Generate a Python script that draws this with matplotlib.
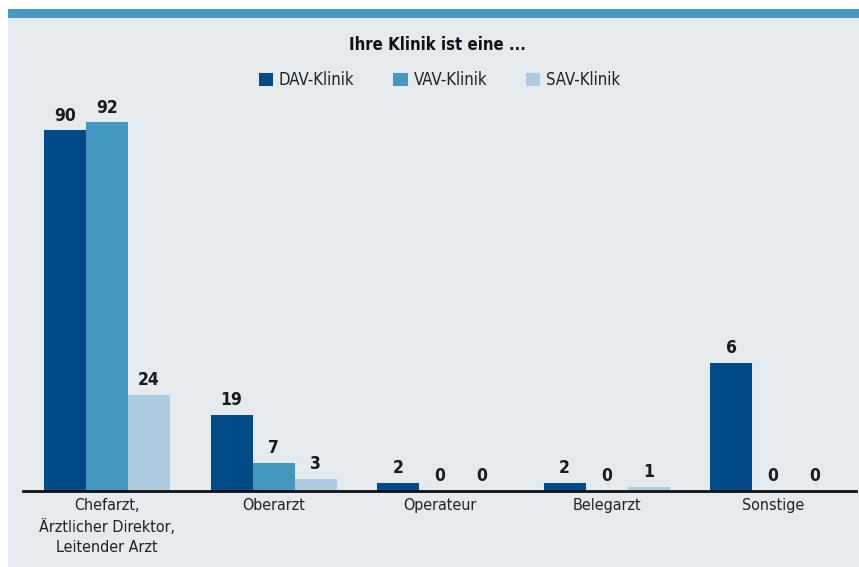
import matplotlib
matplotlib.use("Agg")
import matplotlib.pyplot as plt
from matplotlib.patches import Rectangle, Patch
import numpy as np

plt.rcParams['font.family'] = ['DejaVu Sans']
plt.rcParams['font.stretch'] = 'condensed'

categories = ["Chefarzt,\nÄrztlicher Direktor,\nLeitender Arzt", "Oberarzt", "Operateur", "Belegarzt", "Sonstige"]
series = ["DAV-Klinik", "VAV-Klinik", "SAV-Klinik"]
# printed values
dav_labels = [90, 19, 2, 2, 6]
vav_labels = [92, 7, 0, 0, 0]
sav_labels = [24, 3, 0, 1, 0]
# drawn bar heights (the original draws the "Sonstige" DAV bar out of scale)
dav_heights = [90, 19, 2, 2, 32]
vav_heights = [92, 7, 0, 0, 0]
sav_heights = [24, 3, 0, 1, 0]
title = "Ihre Klinik ist eine ..."

colors = ["#004b87", "#4497bf", "#aecadd"]
bg = "#e4eaee"

W, H = 859, 567
fig = plt.figure(figsize=(W / 100, H / 100), dpi=100)
fig.patch.set_facecolor("white")
fig.patches.append(Rectangle((8 / W, 0), 1 - 8 / W, 1 - 18 / H, transform=fig.transFigure,
                             facecolor=bg, edgecolor="none", zorder=-2))
fig.patches.append(Rectangle((8 / W, 1 - 18 / H), 1 - 8 / W, 9 / H, transform=fig.transFigure,
                             facecolor="#4a97bf", edgecolor="none", zorder=-1))

base = 491
ax = fig.add_axes([23 / W, (H - base) / H, (856 - 23) / W, 401 / H])
ax.set_facecolor("none")
ax.set_xlim(-0.5045, 4.498)
ax.set_ylim(0, 100)

x = np.arange(len(categories))
w = 0.2523
heights = [dav_heights, vav_heights, sav_heights]
labels = [dav_labels, vav_labels, sav_labels]
for i, (h, lab) in enumerate(zip(heights, labels)):
    pos = x + (i - 1) * w
    ax.bar(pos, h, width=w, color=colors[i], edgecolor="none", zorder=2)
    for px, hv, lv in zip(pos, h, lab):
        ax.annotate(str(lv), (px, hv), xytext=(0, 4), textcoords="offset points",
                    ha="center", va="bottom", fontsize=12.5, fontweight="bold", color="#1a1a1a")

for s in ["top", "right", "left"]:
    ax.spines[s].set_visible(False)
ax.spines["bottom"].set_linewidth(2)
ax.spines["bottom"].set_color("#111111")
ax.set_yticks([])
ax.set_xticks(x)
ax.set_xticklabels(categories, fontsize=11.5, color="#222222", linespacing=1.45)
ax.tick_params(axis="x", length=0, pad=5)

fig.text(437 / W, 1 - 45 / H, title, ha="center", va="center", fontsize=12, fontweight="bold",
         color="#111111")

handles = [Patch(facecolor=c, edgecolor="none") for c in colors]
fig.legend(handles, series, loc="center", bbox_to_anchor=(439.5 / W, 1 - 80 / H), ncol=3,
           frameon=False, fontsize=12, handlelength=0.85, handleheight=0.85,
           handletextpad=0.35, columnspacing=2.35, labelcolor="#222222")

fig.savefig("out.png", dpi=100, facecolor=fig.get_facecolor())
